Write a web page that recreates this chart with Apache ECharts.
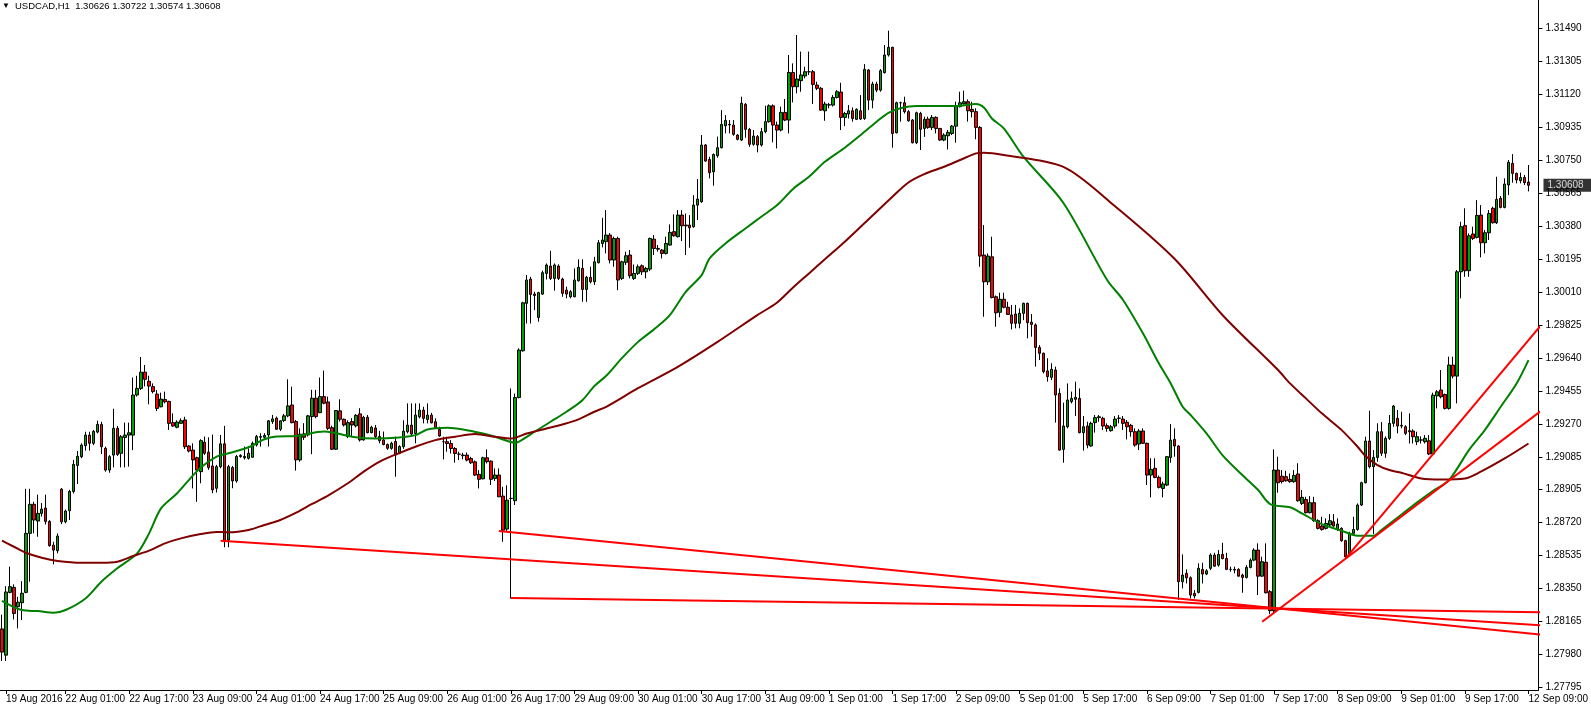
<!DOCTYPE html>
<html>
<head>
<meta charset="utf-8">
<script src="https://cdn.jsdelivr.net/npm/echarts@6/dist/echarts.min.js"></script>
<style>html,body{margin:0;padding:0;background:#fff;}#chart{width:1591px;height:706px;}</style>
</head>
<body>
<div id="chart"></div>
<script>
// ---- DATA (USDCAD H1) ----
const open = [
1.28120,1.27973,1.28325,1.28353,1.28245,1.28267,1.28325,1.28656,1.28819,1.28725,
1.28768,1.28798,1.28723,1.28590,1.28559,1.28904,1.28721,1.28783,1.28891,1.29037,
1.29086,1.29148,1.29207,1.29161,1.29224,1.29267,1.29133,1.29011,1.29095,1.29245,
1.29105,1.29194,1.29207,1.29207,1.29432,1.29469,1.29560,1.29509,1.29479,1.29437,
1.29366,1.29407,1.29396,1.29277,1.29251,1.29273,1.29292,1.29146,1.29123,1.29080,
1.29002,1.29167,1.29111,1.29034,1.28909,1.29030,1.29158,1.28619,1.29025,1.28950,
1.29087,1.29080,1.29077,1.29083,1.29152,1.29195,1.29195,1.29208,1.29283,1.29302,
1.29240,1.29289,1.29315,1.29376,1.29283,1.29068,1.29214,1.29208,1.29311,1.29414,
1.29333,1.29423,1.29393,1.29249,1.29128,1.29343,1.29296,1.29199,1.29283,1.29259,
1.29326,1.29180,1.29307,1.29221,1.29247,1.29199,1.29180,1.29154,1.29133,1.29171,
1.29105,1.29142,1.29226,1.29263,1.29216,1.29310,1.29347,1.29295,1.29319,1.29282,
1.29239,1.29170,1.29170,1.29160,1.29132,1.29100,1.29095,1.29095,1.29076,1.29057,
1.28987,1.28962,1.29080,1.29061,1.28964,1.28983,1.28865,1.28680,1.28852,1.28839,
1.29418,1.29680,1.29946,1.30082,1.29998,1.29867,1.29998,1.30114,1.30155,1.30086,
1.30155,1.30082,1.30020,1.29983,1.29983,1.30073,1.30142,1.30024,1.30092,1.30067,
1.30174,1.30282,1.30292,1.30329,1.30189,1.30310,1.30086,1.30176,1.30217,1.30086,
1.30114,1.30157,1.30123,1.30138,1.30306,1.30254,1.30245,1.30226,1.30273,1.30348,
1.30320,1.30441,1.30385,1.30385,1.30376,1.30497,1.30516,1.30834,1.30753,1.30684,
1.30774,1.30819,1.30942,1.30950,1.30946,1.30890,1.30862,1.31062,1.30922,1.30838,
1.30881,1.30834,1.30909,1.30965,1.31054,1.30946,1.30918,1.31017,1.30974,1.31241,
1.31161,1.31195,1.31221,1.31245,1.31245,1.31170,1.31152,1.31026,1.31058,1.31058,
1.31101,1.31131,1.30989,1.31008,1.31026,1.30978,1.31026,1.30983,1.31255,1.31086,
1.31176,1.31142,1.31240,1.31339,1.31382,1.30903,1.31071,1.31071,1.31021,1.30974,
1.30847,1.31011,1.30927,1.30980,1.30933,1.30989,1.30927,1.30862,1.30886,1.30899,
1.30940,1.31049,1.31066,1.31077,1.31034,1.31021,1.30933,1.30217,1.30067,1.30207,
1.29983,1.29896,1.29969,1.29924,1.29881,1.29886,1.29834,1.29890,1.29946,1.29840,
1.29825,1.29699,1.29666,1.29567,1.29531,1.29572,1.29441,1.29127,1.29254,1.29395,
1.29408,1.29413,1.29221,1.29258,1.29146,1.29277,1.29305,1.29301,1.29260,1.29232,
1.29258,1.29301,1.29297,1.29279,1.29262,1.29226,1.29157,1.29230,1.29161,1.28983,
1.29021,1.28970,1.28908,1.28927,1.29082,1.29183,1.29146,1.28385,1.28432,1.28407,
1.28319,1.28325,1.28454,1.28428,1.28460,1.28534,1.28478,1.28538,1.28515,1.28454,
1.28454,1.28454,1.28422,1.28409,1.28465,1.28506,1.28562,1.28416,1.28494,1.28329,
1.28222,1.29011,1.28977,1.28974,1.28959,1.28946,1.28989,1.28824,1.28846,1.28772,
1.28828,1.28727,1.28697,1.28684,1.28703,1.28721,1.28678,1.28684,1.28615,1.28534,
1.28656,1.28678,1.28815,1.28940,1.29174,1.29030,1.29082,1.29226,1.29105,1.29189,
1.29273,1.29301,1.29262,1.29254,1.29232,1.29230,1.29170,1.29180,1.29170,1.29175,
1.29101,1.29427,1.29460,1.29435,1.29357,1.29600,1.29538,1.30123,1.30382,1.30129,
1.30335,1.30316,1.30441,1.30286,1.30342,1.30479,1.30398,1.30535,1.30484,1.30610,
1.30731,1.30675,1.30634,1.30652,1.30626];
const high = [
1.28200,1.28360,1.28469,1.28370,1.28300,1.28388,1.28906,1.28906,1.28833,1.28873,
1.28826,1.28873,1.28730,1.28609,1.28656,1.28910,1.28790,1.28900,1.29068,1.29118,
1.29161,1.29226,1.29226,1.29236,1.29288,1.29282,1.29142,1.29095,1.29355,1.29258,
1.29207,1.29277,1.29277,1.29530,1.29540,1.29645,1.29600,1.29540,1.29497,1.29460,
1.29445,1.29451,1.29400,1.29329,1.29290,1.29301,1.29310,1.29150,1.29161,1.29086,
1.29184,1.29199,1.29195,1.29210,1.29040,1.29208,1.29259,1.29040,1.29034,1.29096,
1.29100,1.29143,1.29133,1.29171,1.29208,1.29218,1.29218,1.29292,1.29320,1.29311,
1.29290,1.29326,1.29520,1.29479,1.29292,1.29245,1.29274,1.29320,1.29461,1.29461,
1.29530,1.29569,1.29423,1.29260,1.29348,1.29408,1.29300,1.29290,1.29302,1.29325,
1.29358,1.29315,1.29320,1.29260,1.29264,1.29231,1.29227,1.29160,1.29170,1.29199,
1.29150,1.29290,1.29385,1.29385,1.29385,1.29385,1.29366,1.29385,1.29332,1.29301,
1.29254,1.29198,1.29198,1.29179,1.29140,1.29114,1.29108,1.29110,1.29085,1.29065,
1.29011,1.29086,1.29127,1.29065,1.29020,1.29020,1.28917,1.28926,1.29469,1.29440,
1.29694,1.29955,1.30105,1.30095,1.30011,1.30011,1.30129,1.30170,1.30241,1.30170,
1.30165,1.30090,1.30039,1.30020,1.30142,1.30193,1.30193,1.30100,1.30152,1.30207,
1.30301,1.30426,1.30469,1.30340,1.30320,1.30320,1.30185,1.30236,1.30245,1.30164,
1.30164,1.30164,1.30150,1.30315,1.30329,1.30273,1.30250,1.30320,1.30389,1.30445,
1.30469,1.30469,1.30450,1.30441,1.30553,1.30643,1.30890,1.30840,1.30768,1.30787,
1.30881,1.31030,1.31002,1.30974,1.30974,1.30895,1.31105,1.31070,1.30930,1.30918,
1.30890,1.30930,1.31054,1.31062,1.31062,1.30965,1.31049,1.31092,1.31339,1.31292,
1.31451,1.31358,1.31273,1.31358,1.31255,1.31189,1.31160,1.31077,1.31070,1.31114,
1.31142,1.31183,1.31020,1.31058,1.31045,1.31040,1.31114,1.31288,1.31260,1.31189,
1.31189,1.31260,1.31395,1.31475,1.31385,1.31077,1.31077,1.31105,1.31030,1.30980,
1.31021,1.31020,1.30993,1.30993,1.31002,1.30995,1.30930,1.30900,1.30918,1.30946,
1.31077,1.31133,1.31139,1.31090,1.31077,1.31040,1.30940,1.30385,1.30226,1.30320,
1.29990,1.30006,1.30006,1.29955,1.29937,1.29937,1.29918,1.29950,1.29950,1.29886,
1.29834,1.29712,1.29670,1.29638,1.29610,1.29591,1.29469,1.29389,1.29497,1.29451,
1.29507,1.29469,1.29314,1.29282,1.29282,1.29320,1.29320,1.29310,1.29273,1.29264,
1.29314,1.29320,1.29314,1.29292,1.29270,1.29245,1.29241,1.29245,1.29165,1.29077,
1.29077,1.28980,1.28946,1.29090,1.29269,1.29245,1.29150,1.28538,1.28454,1.28415,
1.28338,1.28488,1.28491,1.28455,1.28544,1.28547,1.28562,1.28603,1.28547,1.28469,
1.28469,1.28460,1.28430,1.28478,1.28516,1.28572,1.28600,1.28525,1.28600,1.28338,
1.29127,1.29086,1.29011,1.29007,1.28992,1.29011,1.29049,1.28899,1.28861,1.28865,
1.28861,1.28735,1.28749,1.28740,1.28764,1.28764,1.28740,1.28690,1.28620,1.28665,
1.28749,1.28824,1.28946,1.29198,1.29344,1.29123,1.29273,1.29280,1.29200,1.29320,
1.29376,1.29348,1.29338,1.29263,1.29329,1.29240,1.29226,1.29200,1.29207,1.29207,
1.29445,1.29460,1.29572,1.29440,1.29647,1.29647,1.30133,1.30404,1.30479,1.30338,
1.30376,1.30525,1.30497,1.30357,1.30469,1.30488,1.30656,1.30548,1.30647,1.30750,
1.30783,1.30679,1.30679,1.30666,1.30722];
const low = [
1.27940,1.27940,1.28320,1.28173,1.28123,1.28170,1.28320,1.28385,1.28656,1.28637,
1.28750,1.28706,1.28581,1.28482,1.28544,1.28708,1.28712,1.28731,1.28880,1.28933,
1.29077,1.29120,1.29120,1.29151,1.29217,1.29101,1.29002,1.28996,1.29026,1.29090,
1.29026,1.29026,1.29030,1.29123,1.29423,1.29460,1.29480,1.29380,1.29441,1.29342,
1.29363,1.29385,1.29236,1.29254,1.29245,1.29270,1.29129,1.29110,1.28908,1.28833,
1.28937,1.29096,1.29012,1.28881,1.28885,1.29021,1.28578,1.28578,1.28909,1.28940,
1.29080,1.29070,1.29070,1.29080,1.29143,1.29143,1.29180,1.29143,1.29270,1.29236,
1.29230,1.29280,1.29307,1.29273,1.29008,1.29058,1.29180,1.29199,1.29100,1.29302,
1.29330,1.29380,1.29236,1.29124,1.29124,1.29283,1.29255,1.29190,1.29199,1.29250,
1.29171,1.29176,1.29217,1.29217,1.29190,1.29161,1.29150,1.29125,1.29125,1.28974,
1.29100,1.29130,1.29217,1.29198,1.29161,1.29301,1.29273,1.29273,1.29273,1.29245,
1.29198,1.29071,1.29114,1.29104,1.29052,1.29067,1.29071,1.29060,1.29045,1.28977,
1.28908,1.28959,1.29048,1.28927,1.28950,1.28861,1.28609,1.28665,1.28291,1.28815,
1.29413,1.29675,1.29833,1.29833,1.29908,1.29843,1.29993,1.30080,1.30077,1.30017,
1.30077,1.29983,1.29974,1.29974,1.29980,1.30068,1.29955,1.29955,1.30058,1.30049,
1.30170,1.30260,1.30226,1.30170,1.30151,1.30020,1.30077,1.30161,1.30086,1.30077,
1.30105,1.30105,1.30086,1.30127,1.30217,1.30236,1.30198,1.30220,1.30270,1.30320,
1.30315,1.30295,1.30217,1.30258,1.30370,1.30413,1.30510,1.30740,1.30647,1.30606,
1.30763,1.30815,1.30899,1.30899,1.30886,1.30860,1.30856,1.30875,1.30824,1.30830,
1.30793,1.30825,1.30900,1.30960,1.30849,1.30815,1.30910,1.30968,1.30899,1.31073,
1.31124,1.31133,1.31208,1.31227,1.31064,1.31142,1.31026,1.30970,1.31040,1.31050,
1.31095,1.30918,1.30940,1.30983,1.30965,1.30974,1.30974,1.30975,1.31030,1.31040,
1.31130,1.31133,1.31235,1.31330,1.30819,1.30899,1.30965,1.31011,1.30965,1.30843,
1.30839,1.30806,1.30880,1.30925,1.30918,1.30899,1.30858,1.30855,1.30809,1.30890,
1.30847,1.31045,1.31060,1.30965,1.30989,1.30866,1.30151,1.29871,1.30049,1.29974,
1.29815,1.29868,1.29918,1.29881,1.29800,1.29806,1.29806,1.29852,1.29750,1.29759,
1.29591,1.29628,1.29553,1.29507,1.29516,1.29277,1.29120,1.29052,1.29245,1.29385,
1.29314,1.29217,1.29120,1.29133,1.29142,1.29221,1.29282,1.29236,1.29226,1.29226,
1.29245,1.29273,1.29236,1.29183,1.29198,1.29142,1.29123,1.29157,1.28927,1.28858,
1.28965,1.28908,1.28858,1.28921,1.29052,1.29086,1.28282,1.28347,1.28375,1.28291,
1.28291,1.28319,1.28375,1.28422,1.28450,1.28469,1.28469,1.28510,1.28450,1.28441,
1.28432,1.28413,1.28323,1.28403,1.28460,1.28500,1.28310,1.28413,1.28319,1.28203,
1.28207,1.28884,1.28936,1.28946,1.28940,1.28940,1.28834,1.28815,1.28768,1.28768,
1.28721,1.28678,1.28671,1.28678,1.28693,1.28693,1.28670,1.28609,1.28516,1.28529,
1.28647,1.28671,1.28809,1.28936,1.29021,1.28652,1.29058,1.29090,1.29080,1.29180,
1.29254,1.29217,1.29245,1.29207,1.29160,1.29160,1.29151,1.29160,1.29160,1.29095,
1.29095,1.29357,1.29413,1.29351,1.29350,1.29525,1.29385,1.29974,1.30095,1.30095,
1.30301,1.30310,1.30204,1.30226,1.30301,1.30394,1.30391,1.30479,1.30479,1.30553,
1.30623,1.30619,1.30619,1.30610,1.30574];
const close = [
1.27990,1.28327,1.28357,1.28207,1.28270,1.28320,1.28656,1.28819,1.28731,1.28768,
1.28792,1.28723,1.28587,1.28562,1.28641,1.28721,1.28781,1.28891,1.29043,1.29088,
1.29151,1.29207,1.29161,1.29228,1.29267,1.29142,1.29011,1.29086,1.29245,1.29099,
1.29198,1.29207,1.29220,1.29432,1.29469,1.29560,1.29520,1.29482,1.29451,1.29357,
1.29409,1.29394,1.29273,1.29258,1.29280,1.29288,1.29142,1.29118,1.29068,1.29011,
1.29176,1.29105,1.29025,1.28900,1.29030,1.29158,1.28610,1.29030,1.28950,1.29087,
1.29093,1.29087,1.29105,1.29161,1.29199,1.29199,1.29205,1.29287,1.29298,1.29240,
1.29287,1.29315,1.29371,1.29277,1.29068,1.29212,1.29195,1.29315,1.29414,1.29311,
1.29423,1.29386,1.29245,1.29128,1.29345,1.29296,1.29264,1.29277,1.29264,1.29318,
1.29180,1.29307,1.29221,1.29251,1.29199,1.29176,1.29154,1.29133,1.29161,1.29096,
1.29143,1.29229,1.29263,1.29213,1.29319,1.29347,1.29301,1.29319,1.29276,1.29250,
1.29202,1.29170,1.29160,1.29132,1.29104,1.29100,1.29092,1.29067,1.29052,1.28983,
1.28959,1.29080,1.29058,1.28959,1.28983,1.28861,1.28674,1.28842,1.28852,1.29418,
1.29684,1.29949,1.30077,1.29996,1.29990,1.30006,1.30118,1.30161,1.30086,1.30161,
1.30086,1.30002,1.29998,1.30011,1.30077,1.30148,1.30024,1.30092,1.30067,1.30179,
1.30286,1.30301,1.30329,1.30189,1.30310,1.30077,1.30179,1.30213,1.30101,1.30114,
1.30151,1.30123,1.30142,1.30310,1.30254,1.30250,1.30226,1.30282,1.30344,1.30325,
1.30441,1.30381,1.30381,1.30370,1.30497,1.30531,1.30834,1.30744,1.30679,1.30781,
1.30819,1.30950,1.30972,1.30947,1.30894,1.30866,1.31068,1.30922,1.30838,1.30884,
1.30834,1.30909,1.30965,1.31054,1.30946,1.30918,1.31017,1.30974,1.31241,1.31161,
1.31204,1.31227,1.31245,1.31245,1.31174,1.31152,1.31030,1.31064,1.31060,1.31101,
1.31133,1.30989,1.31011,1.31026,1.30983,1.31034,1.30980,1.31258,1.31086,1.31176,
1.31142,1.31251,1.31339,1.31382,1.30899,1.31071,1.31071,1.31021,1.30970,1.30847,
1.31015,1.30922,1.30978,1.30933,1.30989,1.30927,1.30862,1.30890,1.30905,1.30940,
1.31053,1.31071,1.31077,1.31026,1.31021,1.30933,1.30211,1.30067,1.30211,1.29979,
1.29893,1.29969,1.29924,1.29884,1.29834,1.29834,1.29890,1.29946,1.29838,1.29828,
1.29699,1.29666,1.29563,1.29535,1.29576,1.29432,1.29123,1.29258,1.29404,1.29413,
1.29419,1.29221,1.29254,1.29151,1.29273,1.29305,1.29310,1.29258,1.29245,1.29254,
1.29297,1.29303,1.29273,1.29254,1.29226,1.29151,1.29230,1.29161,1.28983,1.29015,
1.28970,1.28914,1.28933,1.29086,1.29179,1.29146,1.28385,1.28422,1.28407,1.28310,
1.28305,1.28460,1.28428,1.28446,1.28534,1.28472,1.28538,1.28515,1.28454,1.28454,
1.28450,1.28416,1.28409,1.28465,1.28506,1.28562,1.28416,1.28497,1.28323,1.28222,
1.29011,1.28940,1.28946,1.28951,1.28946,1.28981,1.28839,1.28858,1.28772,1.28828,
1.28727,1.28684,1.28678,1.28712,1.28727,1.28697,1.28708,1.28615,1.28525,1.28656,
1.28678,1.28815,1.28940,1.29174,1.29030,1.29082,1.29226,1.29105,1.29189,1.29273,
1.29370,1.29258,1.29258,1.29217,1.29226,1.29198,1.29198,1.29179,1.29189,1.29101,
1.29431,1.29450,1.29422,1.29357,1.29600,1.29538,1.30123,1.30376,1.30129,1.30325,
1.30310,1.30439,1.30286,1.30342,1.30450,1.30398,1.30529,1.30484,1.30615,1.30737,
1.30675,1.30638,1.30652,1.30623,1.30608];

// time-axis ticks: bar index and its label
const tickBars = [1,16,32,48,64,80,96,112,128,144,160,176,192,208,224,240,256,272,288,304,320,336,352,368,384];
const tickLabels = ['19 Aug 2016','22 Aug 01:00','22 Aug 17:00','23 Aug 09:00','24 Aug 01:00','24 Aug 17:00',
  '25 Aug 09:00','26 Aug 01:00','26 Aug 17:00','29 Aug 09:00','30 Aug 01:00','30 Aug 17:00','31 Aug 09:00',
  '1 Sep 01:00','1 Sep 17:00','2 Sep 09:00','5 Sep 01:00','5 Sep 17:00','6 Sep 09:00','7 Sep 01:00',
  '7 Sep 17:00','8 Sep 09:00','9 Sep 01:00','9 Sep 17:00','12 Sep 09:00'];
// price scale labels
const priceTicks = [1.27795,1.27980,1.28165,1.28350,1.28535,1.28720,1.28905,1.29085,1.29270,1.29455,
  1.29640,1.29825,1.30010,1.30195,1.30380,1.30565,1.30750,1.30935,1.31120,1.31305,1.31490];

// moving averages [bar, price]
const maGreen = [[0,1.28278],[5,1.28226],[9,1.28220],[13,1.28211],[16,1.28226],[21,1.28291],[25,1.28385],
  [29,1.28460],[34,1.28544],[37,1.28656],[40,1.28796],[44,1.28880],[47,1.28955],[50,1.29026],[54,1.29087],
  [57,1.29105],[62,1.29139],[66,1.29184],[69,1.29199],[74,1.29202],[81,1.29227],[84,1.29217],[89,1.29195],
  [94,1.29188],[99,1.29192],[104,1.29207],[107,1.29239],[112,1.29248],[116,1.29239],[121,1.29216],[124,1.29198],
  [127,1.29175],[129,1.29164],[131,1.29183],[134,1.29226],[138,1.29282],[142,1.29338],[146,1.29403],[149,1.29482],
  [152,1.29540],[156,1.29640],[160,1.29730],[164,1.29800],[168,1.29880],[172,1.30011],[176,1.30104],[178,1.30198],
  [182,1.30282],[187,1.30366],[191,1.30432],[195,1.30497],[199,1.30588],[203,1.30656],[207,1.30740],[212,1.30819],
  [216,1.30890],[220,1.30965],[223,1.31015],[226,1.31040],[230,1.31053],[235,1.31053],[240,1.31053],[245,1.31064],
  [247,1.31045],[249,1.30983],[252,1.30927],[257,1.30767],[267,1.30509],[278,1.30077],[282,1.29965],[287,1.29778],
  [291,1.29610],[294,1.29497],[297,1.29366],[299,1.29320],[303,1.29217],[307,1.29095],[312,1.28983],[316,1.28899],
  [319,1.28820],[324,1.28802],[327,1.28768],[332,1.28708],[337,1.28671],[341,1.28643],[345,1.28643],[347,1.28674],
  [352,1.28760],[356,1.28830],[360,1.28895],[364,1.28955],[369,1.29123],[373,1.29235],[377,1.29366],[381,1.29497],
  [384,1.29628]];
const maMaroon = [[0,1.28615],[3,1.28581],[6,1.28547],[10,1.28519],[14,1.28501],[20,1.28491],[25,1.28491],
  [29,1.28497],[33,1.28529],[37,1.28559],[41,1.28600],[45,1.28628],[50,1.28652],[54,1.28664],[57,1.28662],
  [62,1.28675],[66,1.28703],[70,1.28731],[74,1.28772],[78,1.28821],[82,1.28868],[87,1.28937],[91,1.29002],
  [95,1.29058],[99,1.29098],[104,1.29142],[109,1.29179],[114,1.29198],[119,1.29213],[124,1.29198],[128,1.29188],
  [132,1.29216],[137,1.29244],[141,1.29267],[145,1.29295],[149,1.29338],[152,1.29366],[160,1.29470],[170,1.29590],
  [180,1.29730],[190,1.29880],[195,1.29951],[199,1.30035],[203,1.30114],[207,1.30193],[212,1.30292],[216,1.30376],
  [220,1.30460],[224,1.30544],[228,1.30624],[232,1.30671],[237,1.30712],[241,1.30750],[245,1.30787],[247,1.30791],
  [252,1.30778],[267,1.30711],[279,1.30509],[295,1.30195],[307,1.29881],[321,1.29572],[324,1.29497],[328,1.29413],
  [332,1.29329],[337,1.29235],[341,1.29142],[343,1.29090],[346,1.29039],[349,1.29011],[352,1.28996],[357,1.28964],
  [362,1.28958],[368,1.28964],[372,1.29002],[378,1.29076],[384,1.29160]];

// trend lines [bar, price] anchor points (rays run to the price scale)
const trendA = [[55,1.28615],[387,1.28141]];
const trendB = [[125,1.28669],[387,1.28088]];
const trendC = [[128,1.28294],[387,1.28213]];
const trendD = [[317,1.28160],[387,1.29340]];
const trendE = [[338,1.28516],[387,1.29820]];

const lastPrice = 1.30608;
const titleText = 'USDCAD,H1  1.30626 1.30722 1.30574 1.30608';

// ---- CHART ----
const FONT = "'Liberation Sans',Arial,sans-serif";
const nCats = open.length + 2;
const categories = [];
for (let i = 0; i < nCats; i++) categories.push(String(i));
const tickMap = {};
tickBars.forEach((b, k) => { tickMap[b] = tickLabels[k]; });
const candles = open.map((o, i) => [o, close[i], low[i], high[i]]);

function trendSeries(d) {
  return { type: 'line', data: d, showSymbol: false, silent: true, clip: true, z: 4,
    lineStyle: { color: '#ff0000', width: 2 }, animation: false };
}

const chart = echarts.init(document.getElementById('chart'), null, { renderer: 'canvas' });
chart.setOption({
  animation: false,
  backgroundColor: '#ffffff',
  title: { text: titleText, left: 15, top: 1, padding: 0,
    textStyle: { fontFamily: FONT, fontSize: 9.5, fontWeight: 'normal', color: '#000' } },
  graphic: [{ type: 'text', left: 2, top: 2, style: { text: '▼', fontSize: 8, fill: '#000' } }],
  grid: { left: -3, right: 46, top: 0, bottom: 16 },
  xAxis: {
    type: 'category', data: categories, boundaryGap: true,
    axisLine: { show: true, lineStyle: { color: '#000', width: 1 } },
    axisTick: { show: true, alignWithLabel: true, length: 4, interval: (i) => tickMap[i] !== undefined,
      lineStyle: { color: '#000' } },
    axisLabel: { interval: (i) => tickMap[i] !== undefined, formatter: (v, i) => tickMap[i] || '',
      hideOverlap: false, align: 'left', margin: 4, fontFamily: FONT, fontSize: 10, color: '#000' },
    splitLine: { show: false }
  },
  yAxis: {
    type: 'value', position: 'right', min: 1.277775, max: 1.316474, scale: true,
    axisLine: { show: true, lineStyle: { color: '#000', width: 1 } },
    axisTick: { show: true, customValues: priceTicks, length: 4, lineStyle: { color: '#000' } },
    axisLabel: { customValues: priceTicks, formatter: (v) => v.toFixed(5), margin: 7, hideOverlap: false,
      fontFamily: FONT, fontSize: 10, color: '#000' },
    splitLine: { show: false }
  },
  series: [
    { type: 'candlestick', data: candles, barWidth: 3, z: 2,
      itemStyle: { color: '#00a000', color0: '#ff0000', borderColor: '#000', borderColor0: '#000',
        borderColorDoji: '#000', borderWidth: 1 } },
    { type: 'line', data: maGreen, smooth: 0.3, showSymbol: false, silent: true, z: 3,
      lineStyle: { color: '#008000', width: 2 } },
    { type: 'line', data: maMaroon, smooth: 0.3, showSymbol: false, silent: true, z: 3,
      lineStyle: { color: '#800000', width: 2 } },
    trendSeries(trendA), trendSeries(trendB), trendSeries(trendC), trendSeries(trendD), trendSeries(trendE),
    // current price tag on the price scale
    { type: 'scatter', data: [[nCats - 1, lastPrice]], symbolSize: 0, silent: true, clip: false, z: 10,
      label: { show: true, position: 'right', distance: 7, formatter: lastPrice.toFixed(5),
        backgroundColor: '#000', color: '#fff', padding: [2, 10, 1, 4], fontFamily: FONT, fontSize: 10 } }
  ]
});
</script>
</body>
</html>
